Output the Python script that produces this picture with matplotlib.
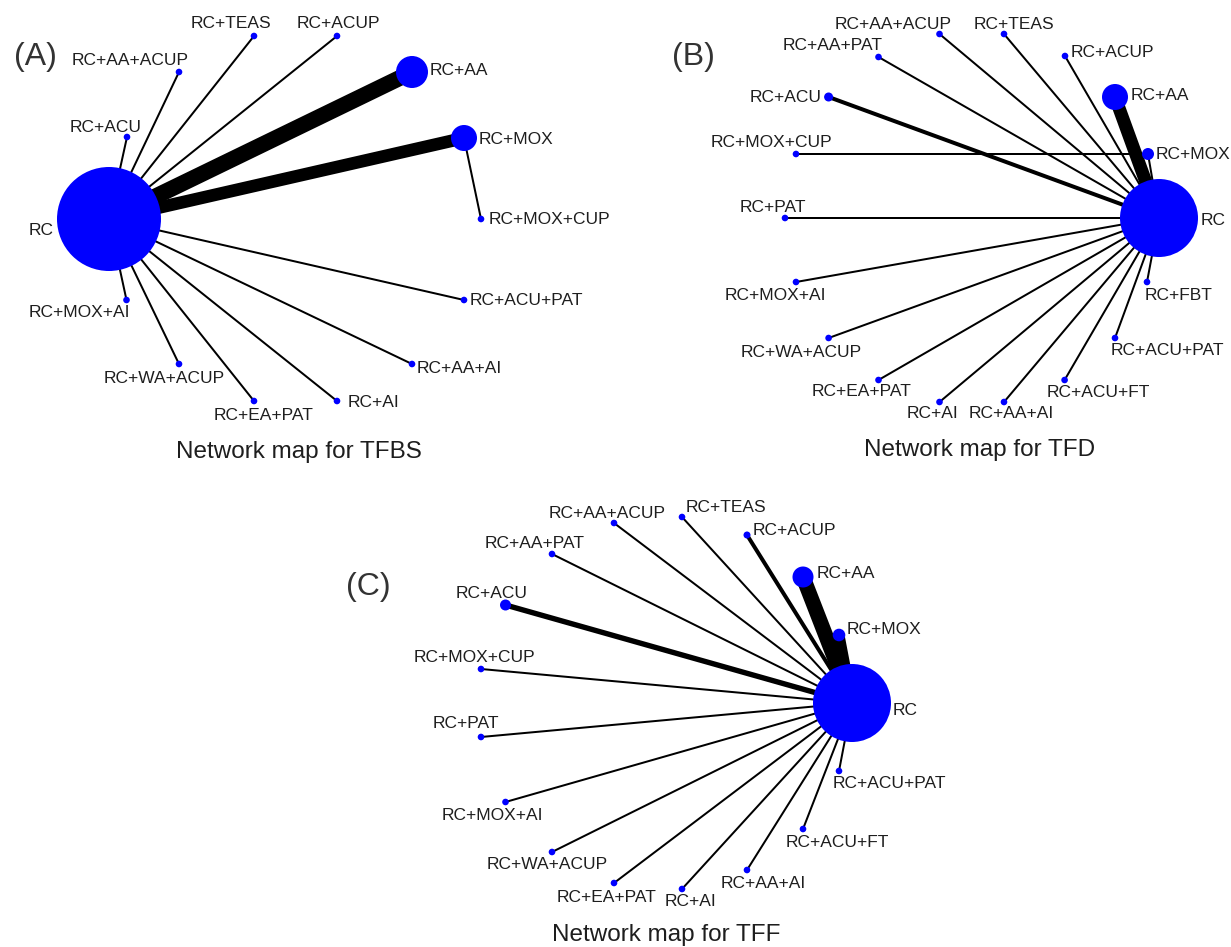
import matplotlib.pyplot as plt
from matplotlib.patches import Ellipse

# ---- panel A: TFBS ----
a_nodes = ["RC", "RC+AA", "RC+MOX", "RC+MOX+CUP", "RC+ACU+PAT", "RC+AA+AI", "RC+AI",
           "RC+EA+PAT", "RC+WA+ACUP", "RC+MOX+AI", "RC+ACU", "RC+AA+ACUP", "RC+TEAS", "RC+ACUP"]
a_x = [109, 412, 464, 481, 464, 412, 337, 254, 179, 126.5, 127, 179, 254, 337]
a_y = [219, 72, 138, 219, 300, 364, 401, 401, 364, 300, 137, 72, 36, 36]
a_size = [52, 16, 13, 3.3, 3.3, 3.3, 3.3, 3.3, 3.3, 3.3, 3.3, 3.3, 3.3, 3.3]
a_label = [(54, 230, "right"), (430, 70, "left"), (479, 139, "left"), (489, 219, "left"),
           (470, 300, "left"), (417, 368, "left"), (348, 402, "left"), (264, 415, "center"),
           (164, 378, "center"), (79, 312, "center"), (106, 127, "center"), (130, 60, "center"),
           (231, 23, "center"), (338, 23, "center")]
a_edges = [("RC", n) for n in a_nodes[1:] if n != "RC+MOX+CUP"] + [("RC+MOX", "RC+MOX+CUP")]
a_studies = {("RC", "RC+AA"): 8, ("RC", "RC+MOX"): 6.3}

# ---- panel B: TFD ----
b_nodes = ["RC", "RC+AA", "RC+MOX", "RC+ACUP", "RC+TEAS", "RC+AA+ACUP", "RC+AA+PAT", "RC+ACU",
           "RC+MOX+CUP", "RC+PAT", "RC+MOX+AI", "RC+WA+ACUP", "RC+EA+PAT", "RC+AI", "RC+AA+AI",
           "RC+ACU+FT", "RC+ACU+PAT", "RC+FBT"]
b_x = [1159, 1115, 1148, 1065, 1004, 939.5, 878.5, 828.6, 796, 785, 796, 828.6, 878.5, 939.5,
       1004, 1064.6, 1115, 1147]
b_y = [218, 97, 154, 56, 34, 34, 57, 97, 154, 218, 282, 338, 380, 402, 402, 380, 338, 282]
b_size = [39, 13, 6, 3.3, 3.3, 3.3, 3.3, 4.5, 3.3, 3.3, 3.3, 3.3, 3.3, 3.3, 3.3, 3.3, 3.3, 3.3]
b_label = [(1201, 220, "left"), (1131, 95, "left"), (1156, 154, "left"), (1071, 52, "left"),
           (1014, 24, "center"), (893, 24, "center"), (833, 45, "center"), (822, 97, "right"),
           (771, 142, "center"), (773, 207, "center"), (775, 295, "center"), (801, 352, "center"),
           (862, 391, "center"), (933, 413, "center"), (1011, 413, "center"), (1098, 392, "center"),
           (1167, 350, "center"), (1179, 295, "center")]
b_edges = [("RC", n) for n in b_nodes[1:] if n != "RC+MOX+CUP"] + [("RC+MOX", "RC+MOX+CUP")]
b_studies = {("RC", "RC+AA"): 6.5, ("RC", "RC+ACU"): 2}

# ---- panel C: TFF ----
c_nodes = ["RC", "RC+AA", "RC+MOX", "RC+ACUP", "RC+TEAS", "RC+AA+ACUP", "RC+AA+PAT", "RC+ACU",
           "RC+MOX+CUP", "RC+PAT", "RC+MOX+AI", "RC+WA+ACUP", "RC+EA+PAT", "RC+AI", "RC+AA+AI",
           "RC+ACU+FT", "RC+ACU+PAT"]
c_x = [852, 803, 839, 747, 682, 614, 552, 505.5, 481, 481, 505.5, 552, 614, 682, 747, 803, 839]
c_y = [703, 577, 635, 535, 517, 523, 554, 605, 669, 737, 802, 852, 883, 889, 870, 829, 771]
c_size = [39, 10.5, 6.3, 3.5, 3.3, 3.3, 3.3, 5.5, 3.3, 3.3, 3.3, 3.3, 3.3, 3.3, 3.3, 3.3, 3.3]
c_label = [(893, 710, "left"), (817, 573, "left"), (847, 629, "left"), (753, 530, "left"),
           (686, 507, "left"), (607, 513, "center"), (535, 543, "center"), (492, 593, "center"),
           (474, 657, "center"), (466, 723, "center"), (492, 815, "center"), (547, 864, "center"),
           (607, 897, "center"), (690, 901, "center"), (763, 883, "center"), (837, 842, "center"),
           (889, 783, "center")]
c_edges = [("RC", n) for n in c_nodes[1:]]
c_studies = {("RC", "RC+AA"): 7.5, ("RC", "RC+MOX"): 5.5, ("RC", "RC+ACU"): 2.7, ("RC", "RC+ACUP"): 2}

panels = [
    ("(A)", (35, 57), "Network map for TFBS", (299, 452),
     a_nodes, a_x, a_y, a_size, a_label, a_edges, a_studies),
    ("(B)", (693, 57), "Network map for TFD", (980, 450),
     b_nodes, b_x, b_y, b_size, b_label, b_edges, b_studies),
    ("(C)", (368, 587), "Network map for TFF", (666, 935),
     c_nodes, c_x, c_y, c_size, c_label, c_edges, c_studies),
]

plt.rcParams["font.family"] = ["Liberation Sans", "DejaVu Sans"]
W, H = 1231, 947
fig = plt.figure(figsize=(W / 100, H / 100), dpi=100)
ax = fig.add_axes([0, 0, 1, 1])
ax.set_xlim(0, W)
ax.set_ylim(H, 0)
ax.axis("off")

TXT = "#1e1e1e"
PX = 72 / 100  # pixels -> points


def draw_network(letter, letter_pos, title, title_pos, nodes, xs, ys, sizes, labels, edges, studies):
    pos = {n: (x, y) for n, x, y in zip(nodes, xs, ys)}
    for u, v in edges:
        k = studies.get((u, v), 1)
        ax.plot([pos[u][0], pos[v][0]], [pos[u][1], pos[v][1]], color="black",
                lw=2 * k * PX, solid_capstyle="butt", zorder=1)
    for n, x, y, r in zip(nodes, xs, ys, sizes):
        ax.add_patch(Ellipse((x, y), 2 * r, 2 * r, facecolor="#0000ff", edgecolor="none", zorder=2))
    for n, (lx, ly, ha) in zip(nodes, labels):
        ax.text(lx, ly, n, ha=ha, va="center", fontsize=12.5, color=TXT, zorder=3)
    ax.text(*letter_pos, letter, ha="center", va="center", fontsize=23, color="#333333")
    ax.text(*title_pos, title, ha="center", va="center", fontsize=17.5, color=TXT)


for p in panels:
    draw_network(*p)

fig.savefig("out.png", dpi=100)
